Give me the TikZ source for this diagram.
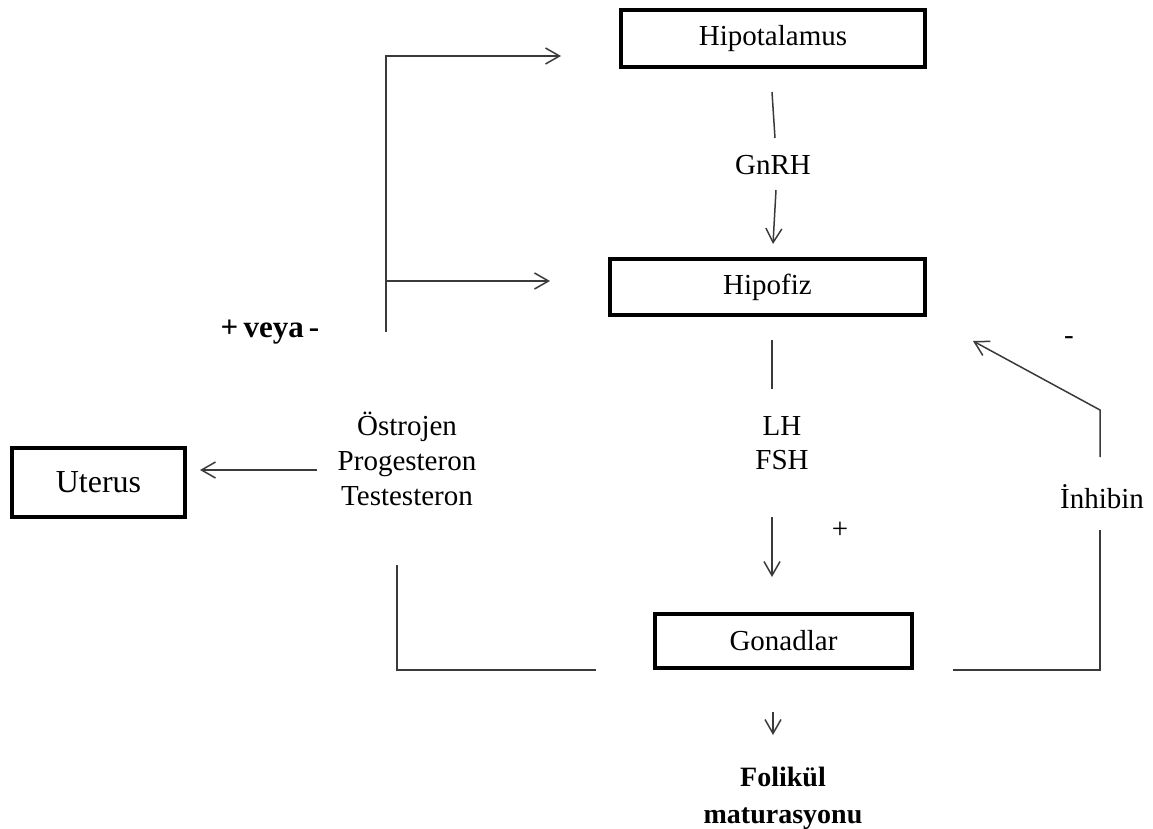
\documentclass[tikz,border=0pt]{standalone}
\usepackage{fontspec}
\setmainfont{Liberation Serif}
\usetikzlibrary{arrows.meta}
\definecolor{lineg}{HTML}{3A3A3A}
\tikzset{
  boxnode/.style={draw=black, line width=2pt, rectangle, inner sep=0pt, font=\fontsize{14.5pt}{17pt}\selectfont},
  lbl/.style={inner sep=0pt, align=center, font=\fontsize{14.5pt}{17pt}\selectfont},
  conn/.style={draw=lineg, line width=0.75pt},
  arr/.style={conn, -{Straight Barb[length=7pt, width=8pt, line width=0.75pt]}}
}
\begin{document}
\begin{tikzpicture}[x=0.5pt, y=-0.5pt]
\useasboundingbox (0,0) rectangle (1153,829);
% boxes
\node[boxnode, minimum width=152pt, minimum height=28.5pt] (hipot) at (773,38.5) {Hipotalamus};
\node[boxnode, minimum width=157.5pt, minimum height=28pt] (hipof) at (767.5,287) {Hipofiz};
\node[boxnode, minimum width=128.5pt, minimum height=27pt] (gonad) at (783.5,641) {Gonadlar};
\node[boxnode, minimum width=86.5pt, minimum height=34.5pt, font=\fontsize{16pt}{19pt}\selectfont] (uterus) at (98.5,482.5) {Uterus};
% labels
\node[lbl] (gnrh) at (773,165) {GnRH};
\node[lbl] (lhfsh) at (782,443) {LH\\FSH};
\node[lbl] (plus) at (840,530) {+};
\node[lbl] (minus) at (1069,341) {-};
\node[lbl] (inhibin) at (1102,497) {İnhibin};
\node[lbl, font=\bfseries\fontsize{15.5pt}{18pt}\selectfont] (veya) at (270,332) {+\,veya\,-};
\node[lbl, font=\fontsize{14.5pt}{17.5pt}\selectfont] (hormones) at (407,459) {Östrojen\\Progesteron\\Testesteron};
\node[lbl, font=\bfseries\fontsize{14pt}{18.5pt}\selectfont] (folikul) at (783,798) {Folikül\\maturasyonu};
% coordinates
\coordinate (lbBot) at (386,332);
\coordinate (lbTopEnd) at (561,56);
\coordinate (lbMid) at (386,281);
\coordinate (lbMidEnd) at (550,281);
\coordinate (g1) at (772,92);
\coordinate (g2) at (775,138);
\coordinate (g3) at (776,190);
\coordinate (g4) at (773,244);
\coordinate (l1) at (772,340);
\coordinate (l2) at (772,389);
\coordinate (l3) at (772,517);
\coordinate (l4) at (772,577);
\coordinate (u1) at (317,470);
\coordinate (u2) at (200,470);
\coordinate (bl1) at (397,565);
\coordinate (bl2) at (596,670);
\coordinate (r1) at (953,670);
\coordinate (r2) at (1100,530);
\coordinate (r3) at (1100,457);
\coordinate (r4) at (1100,410);
\coordinate (r5) at (973,341);
\coordinate (f1) at (773,712);
\coordinate (f2) at (773,735);
% connectors
\draw[arr] (lbBot) |- (lbTopEnd);
\draw[arr] (lbMid) -- (lbMidEnd);
\draw[conn] (g1) -- (g2);
\draw[arr] (g3) -- (g4);
\draw[conn] (l1) -- (l2);
\draw[arr] (l3) -- (l4);
\draw[arr] (u1) -- (u2);
\draw[conn] (bl1) |- (bl2);
\draw[conn] (r1) -| (r2);
\draw[arr] (r3) -- (r4) -- (r5);
\draw[arr] (f1) -- (f2);
\end{tikzpicture}
\end{document}
